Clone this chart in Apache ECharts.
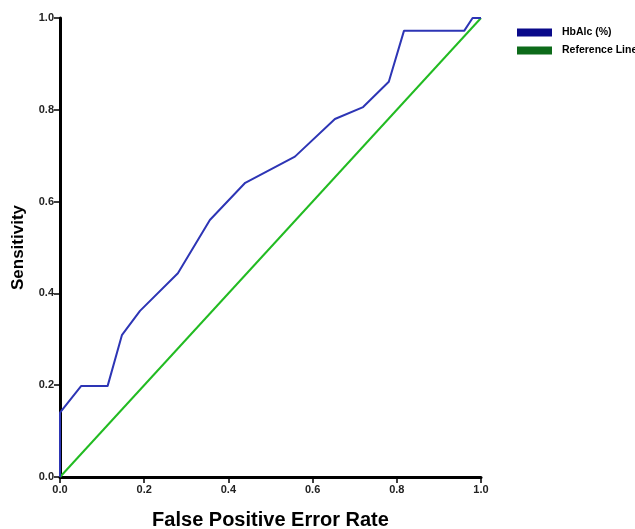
<!DOCTYPE html>
<html><head><meta charset="utf-8">
<script src="https://cdn.jsdelivr.net/npm/echarts@6/dist/echarts.min.js"></script>
<style>html,body{margin:0;padding:0;background:#fff}#c{width:635px;height:529px}</style>
</head><body><div id="c"></div>
<script>
const rocX = [0, 0, 0.05, 0.113, 0.147, 0.19, 0.28, 0.356, 0.44, 0.558, 0.653, 0.72, 0.781, 0.817, 0.96, 0.98, 1.0];
const rocY = [0, 0.140, 0.198, 0.198, 0.309, 0.362, 0.444, 0.560, 0.641, 0.698, 0.780, 0.806, 0.861, 0.972, 0.972, 1.0, 1.0];
const refX = [0, 1];
const refY = [0, 1];
const ticks = [0, 0.2, 0.4, 0.6, 0.8, 1.0];
const seriesNames = ['HbAlc (%)', 'Reference Line'];

const chart = echarts.init(document.getElementById('c'));
const axisCommon = {
  type: 'value', min: 0, max: 1, interval: 0.2,
  axisLine: {show: true, lineStyle: {color: '#000', width: 3}},
  axisTick: {show: true, length: 6, lineStyle: {color: '#000', width: 1.5}},
  splitLine: {show: false},
  axisLabel: {color: '#222', fontFamily: 'Liberation Sans', fontWeight: 'bold', fontSize: 11,
    formatter: v => v.toFixed(1)},
  nameTextStyle: {color: '#000', fontFamily: 'Liberation Sans', fontWeight: 'bold'}
};
chart.setOption({
  animation: false,
  grid: {left: 60, right: 154, top: 18, bottom: 52, containLabel: false, outerBoundsMode: 'none'},
  legend: {
    orient: 'vertical', left: 517, top: 27, padding: 0, itemWidth: 35, itemHeight: 8, itemGap: 7,
    icon: 'rect',
    textStyle: {fontFamily: 'Liberation Sans', fontWeight: 'bold', fontSize: 10.5, color: '#000', padding: [0, 0, 0, 5]},
    data: seriesNames
  },
  xAxis: Object.assign({}, axisCommon, {
    name: 'False Positive Error Rate', nameLocation: 'middle', nameGap: 33,
    nameTextStyle: {color: '#000', fontFamily: 'Liberation Sans', fontWeight: 'bold', fontSize: 20},
    axisLabel: Object.assign({}, axisCommon.axisLabel, {margin: 7})
  }),
  yAxis: Object.assign({}, axisCommon, {
    name: 'Sensitivity', nameLocation: 'middle', nameGap: 33,
    nameTextStyle: {color: '#000', fontFamily: 'Liberation Sans', fontWeight: 'bold', fontSize: 17},
    axisLabel: Object.assign({}, axisCommon.axisLabel, {margin: 6})
  }),
  series: [
    {name: seriesNames[0], type: 'line', showSymbol: false, symbol: 'none',
     data: rocX.map((x, i) => [x, rocY[i]]),
     lineStyle: {color: '#2d35b5', width: 2}, itemStyle: {color: '#0a0a8a'}, z: 3},
    {name: seriesNames[1], type: 'line', showSymbol: false, symbol: 'none',
     data: refX.map((x, i) => [x, refY[i]]),
     lineStyle: {color: '#22bb22', width: 2}, itemStyle: {color: '#0d6b1a'}, z: 2}
  ]
});
</script></body></html>
